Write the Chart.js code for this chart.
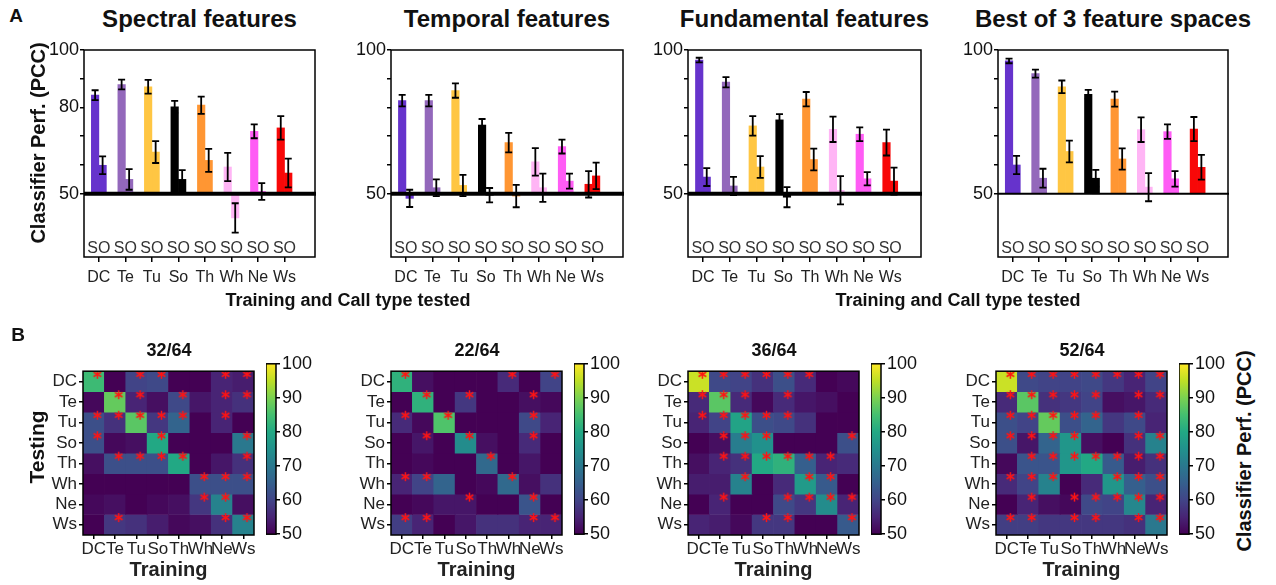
<!DOCTYPE html>
<html>
<head>
<meta charset="utf-8">
<script src="https://cdn.jsdelivr.net/npm/chart.js@4.4.0/dist/chart.umd.min.js"></script>
<style>
  body { margin: 0; width: 1276px; height: 585px; background: #fff; position: relative; overflow: hidden; }
  canvas { position: absolute; }
</style>
</head>
<body>
<script>
// CALL TYPES AND THEIR COLOURS
const calls = ['DC', 'Te', 'Tu', 'So', 'Th', 'Wh', 'Ne', 'Ws'];
const callColors = ['#6633cc', '#9368bb', '#ffc643', '#000000', '#ff9633', '#ffb5f5', '#ff5cf5', '#f80808'];
const panelTitles = ['Spectral features', 'Temporal features', 'Fundamental features', 'Best of 3 feature spaces'];
const perfTicks = [50, 60, 70, 80, 90, 100];
const perfLabels = [[50, 80, 100], [50, 100], [50, 100], [50, 100]];
const cbarTicks = [50, 60, 70, 80, 90, 100];

// PANEL A : SAME (S) AND OTHER (O) CALL TYPE PERFORMANCE, MEAN AND ERROR
const spectralS = [84.3, 88.0, 87.2, 80.2, 80.8, 59.3, 71.7, 72.9];
const spectralSErr = [1.7, 1.7, 2.4, 2.1, 3.0, 4.9, 2.4, 4.1];
const spectralO = [59.9, 55.0, 64.5, 55.0, 61.6, 41.6, 50.8, 57.2];
const spectralOErr = [3.1, 3.6, 3.8, 3.2, 4.0, 5.1, 2.9, 5.0];

const temporalS = [82.4, 82.4, 85.9, 73.9, 67.8, 61.1, 66.4, 53.3];
const temporalSErr = [2.0, 2.0, 2.5, 2.1, 3.4, 4.8, 2.4, 4.6];
const temporalO = [48.4, 52.1, 52.9, 49.5, 49.2, 52.1, 54.4, 56.2];
const temporalOErr = [3.0, 2.9, 3.7, 2.5, 3.9, 4.9, 2.6, 4.6];

const fundamentalS = [96.5, 88.8, 73.6, 75.7, 82.9, 72.4, 70.7, 67.8];
const fundamentalSErr = [0.8, 1.8, 3.4, 2.0, 2.5, 4.4, 2.4, 4.5];
const fundamentalO = [55.8, 52.7, 59.3, 48.8, 61.9, 51.2, 55.2, 54.4];
const fundamentalOErr = [3.1, 3.2, 3.8, 3.5, 3.8, 4.9, 2.3, 4.7];

const bestS = [96.2, 91.8, 87.2, 84.6, 82.9, 72.3, 71.6, 72.5];
const bestSErr = [0.8, 1.4, 2.2, 1.5, 2.6, 4.3, 2.5, 4.2];
const bestO = [60.0, 55.4, 64.7, 55.4, 62.1, 52.3, 55.2, 59.2];
const bestOErr = [3.2, 3.3, 3.8, 2.9, 3.7, 4.9, 2.7, 4.3];

// PANEL B : CONFUSION MATRICES (ROWS = TESTING, COLUMNS = TRAINING)
const spectralHeat = [
  [84, 50, 60, 61, 50, 50, 55, 54],
  [51, 88, 55, 52, 61, 53, 55, 57],
  [62, 57, 87, 58, 66, 50, 55, 50],
  [62, 51, 52, 80, 50, 50, 50, 70],
  [52, 62, 62, 62, 80, 50, 53, 57],
  [50, 50, 50, 50, 50, 62, 62, 62],
  [51, 52, 50, 51, 52, 58, 72, 52],
  [50, 58, 57, 54, 51, 52, 57, 72]];
const temporalHeat = [
  [82, 52, 50, 50, 50, 56, 50, 60],
  [50, 82, 50, 58, 50, 50, 52, 51],
  [56, 51, 86, 50, 50, 50, 61, 55],
  [50, 53, 50, 74, 52, 50, 56, 50],
  [50, 51, 50, 50, 67, 50, 53, 50],
  [55, 60, 66, 50, 51, 67, 52, 57],
  [50, 51, 53, 53, 50, 50, 63, 50],
  [59, 55, 50, 53, 57, 57, 55, 55]];
const fundamentalHeat = [
  [96, 61, 60, 57, 62, 56, 50, 51],
  [56, 87, 56, 51, 56, 53, 52, 50],
  [55, 60, 79, 62, 61, 57, 50, 50],
  [50, 52, 71, 75, 50, 50, 50, 62],
  [52, 55, 57, 80, 82, 65, 55, 56],
  [54, 54, 72, 50, 56, 77, 64, 50],
  [50, 55, 50, 50, 61, 58, 74, 55],
  [55, 54, 51, 58, 58, 50, 50, 64]];
const bestHeat = [
  [96, 61, 60, 60, 61, 58, 55, 60],
  [56, 87, 57, 58, 60, 52, 53, 56],
  [62, 60, 88, 62, 66, 58, 61, 55],
  [62, 53, 66, 76, 52, 50, 57, 72],
  [51, 63, 63, 76, 80, 64, 54, 57],
  [56, 60, 72, 50, 56, 76, 65, 62],
  [50, 55, 52, 51, 61, 60, 73, 55],
  [59, 59, 58, 58, 58, 58, 57, 70]];

// SIGNIFICANT CELLS (RED ASTERISKS)
const spectralStars = [
  [1,0,1,1,0,0,1,1], [0,1,1,0,1,0,1,1], [1,1,1,1,1,0,1,0], [1,0,0,1,0,0,0,1],
  [0,1,1,1,1,0,0,1], [0,0,0,0,0,1,1,1], [0,0,0,0,0,1,1,0], [0,1,0,0,0,0,1,1]];
const temporalStars = [
  [1,0,0,0,0,1,0,1], [0,1,0,1,0,0,1,0], [1,0,1,0,0,0,1,0], [0,1,0,1,0,0,1,0],
  [0,0,0,0,1,0,0,0], [1,1,0,0,0,1,0,0], [0,0,0,1,0,0,1,0], [1,1,0,0,0,0,1,1]];
const fundamentalStars = [
  [1,1,1,1,1,1,0,0], [1,1,1,0,1,0,0,0], [1,1,1,1,1,0,0,0], [0,1,1,1,0,0,0,1],
  [0,1,1,1,1,1,1,0], [0,0,1,0,0,1,1,0], [0,1,0,0,1,1,1,1], [0,0,0,1,1,0,0,1]];
const bestStars = [
  [1,1,1,1,1,1,1,1], [1,1,1,1,1,0,1,1], [1,1,1,1,1,0,1,0], [1,1,1,1,0,0,1,1],
  [0,1,1,1,1,1,1,1], [1,1,1,0,0,1,1,1], [0,1,0,1,1,1,1,1], [1,1,0,1,1,0,1,1]];

const barPanels = [
  [spectralS, spectralSErr, spectralO, spectralOErr],
  [temporalS, temporalSErr, temporalO, temporalOErr],
  [fundamentalS, fundamentalSErr, fundamentalO, fundamentalOErr],
  [bestS, bestSErr, bestO, bestOErr]];
const heatPanels = [spectralHeat, temporalHeat, fundamentalHeat, bestHeat];
const starPanels = [spectralStars, temporalStars, fundamentalStars, bestStars];

// LAYOUT
const FONT = '"Liberation Sans", Arial, Helvetica, sans-serif';
const topLeft = [84, 391, 688, 998];
const topRight = [315, 623, 921, 1228];
const baseWidth = [4, 4, 4, 2];
const heatLeft = [83, 391, 688, 996];

Chart.defaults.font.family = FONT;
Chart.defaults.color = '#111';

const viridisStops = ['#440154', '#482475', '#414487', '#355f8d', '#2a788e', '#21918c',
  '#22a884', '#44bf70', '#7ad151', '#bddf26', '#fde725'];
function hexRgb(h) {
  return [1, 3, 5].map(i => parseInt(h.substr(i, 2), 16));
}
function viridis(v) {
  const t = Math.min(Math.max((v - 50) / 50, 0), 1) * 10;
  const i = Math.min(Math.floor(t), 9), f = t - i;
  const a = hexRgb(viridisStops[i]), b = hexRgb(viridisStops[i + 1]);
  const c = a.map((x, k) => Math.round(x + (b[k] - x) * f));
  return `rgb(${c[0]},${c[1]},${c[2]})`;
}

function makeCanvas(left, top, w, h) {
  const c = document.createElement('canvas');
  c.width = w; c.height = h;
  c.style.left = left + 'px'; c.style.top = top + 'px';
  c.style.width = w + 'px'; c.style.height = h + 'px';
  document.body.appendChild(c);
  return c;
}

function label(text, cx, cy, size, rotate) {
  const d = document.createElement('div');
  d.textContent = text;
  d.style.cssText = `position:absolute;left:${cx}px;top:${cy}px;font:bold ${size}px ${FONT};` +
    `white-space:nowrap;line-height:1;color:#111;transform:translate(-50%,-50%)${rotate ? ' rotate(-90deg)' : ''}`;
  document.body.appendChild(d);
}

// BOX AROUND THE PLOT AREA
const framePlugin = {
  id: 'frame',
  afterDatasetsDraw(chart) {
    const { ctx, chartArea: a } = chart;
    ctx.save();
    ctx.strokeStyle = '#000';
    ctx.lineWidth = 1.5;
    ctx.strokeRect(a.left, a.top, a.right - a.left, a.bottom - a.top);
    ctx.restore();
  }
};

// CHANCE LINE, ERROR BARS AND "SO" LETTERS
const barExtras = {
  id: 'barExtras',
  afterDatasetsDraw(chart, args, opts) {
    const { ctx, chartArea: a, scales: { x, y } } = chart;
    ctx.save();
    const y50 = y.getPixelForValue(50);
    ctx.strokeStyle = '#000';
    ctx.lineWidth = opts.baseWidth;
    ctx.beginPath(); ctx.moveTo(a.left, y50); ctx.lineTo(a.right + 1, y50); ctx.stroke();

    ctx.lineWidth = 1.8;
    chart.data.datasets.forEach((ds, di) => {
      chart.getDatasetMeta(di).data.forEach((bar, i) => {
        const m = ds.means[i], e = ds.errs[i];
        const y1 = y.getPixelForValue(m - e), y2 = y.getPixelForValue(m + e);
        ctx.beginPath();
        ctx.moveTo(bar.x, y1); ctx.lineTo(bar.x, y2);
        ctx.moveTo(bar.x - 3.5, y1); ctx.lineTo(bar.x + 3.5, y1);
        ctx.moveTo(bar.x - 3.5, y2); ctx.lineTo(bar.x + 3.5, y2);
        ctx.stroke();
      });
    });

    ctx.fillStyle = '#333';
    ctx.font = '16px ' + FONT;
    ctx.textAlign = 'center';
    ctx.textBaseline = 'middle';
    calls.forEach((c, i) => ctx.fillText('SO', x.getPixelForValue(i + 1), y.getPixelForValue(31)));
    ctx.restore();
  }
};

// PANEL A BAR CHARTS
barPanels.forEach((p, k) => {
  const [S, SErr, O, OErr] = p;
  const w = topRight[k] - topLeft[k];
  const canvas = makeCanvas(topLeft[k] - 50, 36, w + 60, 261);
  new Chart(canvas, {
    type: 'bar',
    data: {
      datasets: [
        { label: 'S', data: S.map((v, i) => ({ x: i + 1, y: [50, v] })), backgroundColor: callColors, means: S, errs: SErr },
        { label: 'O', data: O.map((v, i) => ({ x: i + 1, y: [50, v] })), backgroundColor: callColors, means: O, errs: OErr }
      ]
    },
    options: {
      responsive: false,
      animation: false,
      layout: { padding: { top: 14, right: 10, left: 0, bottom: 0 } },
      datasets: { bar: { barThickness: 7.5 } },
      plugins: { legend: { display: false }, tooltip: { enabled: false }, barExtras: { baseWidth: baseWidth[k] } },
      scales: {
        x: {
          type: 'linear', min: 0.44, max: 9.15, offset: false,
          grid: { offset: false, drawOnChartArea: false, tickLength: 5, color: '#000', lineWidth: 1.5 },
          border: { display: false },
          afterBuildTicks: s => { s.ticks = calls.map((c, i) => ({ value: i + 1 })); },
          afterFit: s => { s.height = 40; },
          ticks: { callback: v => calls[v - 1], font: { size: 16 }, color: '#222', padding: 6, autoSkip: false, maxRotation: 0, minRotation: 0 }
        },
        y: {
          min: 28, max: 100,
          grid: { drawOnChartArea: false, tickLength: 4, color: '#000', lineWidth: 1.5 },
          border: { display: false },
          afterBuildTicks: s => { s.ticks = perfTicks.map(v => ({ value: v })); },
          afterFit: s => { s.width = 50; },
          ticks: { callback: v => perfLabels[k].includes(v) ? String(v) : '', font: { size: 18 }, color: '#111', padding: 1 }
        }
      }
    },
    plugins: [framePlugin, barExtras]
  });
  label(panelTitles[k], (topLeft[k] + topRight[k]) / 2, 19, 24);
});

// RED ASTERISK MARKER
const starImg = document.createElement('canvas');
starImg.width = 11; starImg.height = 11;
const sctx = starImg.getContext('2d');
sctx.strokeStyle = '#ff1414';
sctx.lineWidth = 1.5;
for (let a = 0; a < 3; a++) {
  const ang = Math.PI / 2 + a * Math.PI / 3;
  sctx.beginPath();
  sctx.moveTo(5.5 + 4.5 * Math.cos(ang), 5.5 + 4.5 * Math.sin(ang));
  sctx.lineTo(5.5 - 4.5 * Math.cos(ang), 5.5 - 4.5 * Math.sin(ang));
  sctx.stroke();
}

// PANEL B HEATMAPS AND COLOUR BARS
heatPanels.forEach((m, k) => {
  const canvas = makeCanvas(heatLeft[k] - 45, 359, 221, 223);
  const datasets = m.map((row, r) => ({
    data: row.map((v, c) => ({ x: c, y: [r, r + 1] })),
    backgroundColor: row.map(viridis),
    grouped: false, barPercentage: 1, categoryPercentage: 1, borderWidth: 0
  }));
  const stars = [];
  starPanels[k].forEach((row, r) => row.forEach((s, c) => { if (s) stars.push({ x: c + 0.17, y: r + 0.15 }); }));
  // lowest order is drawn last, so the asterisks sit on top of the cells
  datasets.push({ type: 'scatter', order: -1, data: stars, pointStyle: starImg, pointRadius: 4, pointHoverRadius: 4 });

  new Chart(canvas, {
    type: 'bar',
    data: { datasets },
    options: {
      responsive: false,
      animation: false,
      layout: { padding: { top: 4, right: 4, left: 0, bottom: 0 } },
      plugins: { legend: { display: false }, tooltip: { enabled: false } },
      scales: {
        x: {
          type: 'linear', min: -0.5, max: 7.5, offset: false,
          grid: { offset: false, drawOnChartArea: false, tickLength: 4, color: '#000', lineWidth: 1.5 },
          border: { display: false },
          afterBuildTicks: s => { s.ticks = calls.map((c, i) => ({ value: i })); },
          afterFit: s => { s.height = 47; },
          ticks: { callback: v => calls[v], font: { size: 17 }, color: '#222', padding: 0, autoSkip: false, maxRotation: 0, minRotation: 0 },
          title: { display: true, text: 'Training', font: { size: 20, weight: 'bold' }, color: '#222', padding: { top: 2, bottom: 0 } }
        },
        y: {
          type: 'linear', min: 0, max: 8, reverse: true,
          grid: { drawOnChartArea: false, tickLength: 4, color: '#000', lineWidth: 1.5 },
          border: { display: false },
          afterBuildTicks: s => { s.ticks = calls.map((c, i) => ({ value: i + 0.5 })); },
          afterFit: s => { s.width = 45; },
          ticks: { callback: v => calls[Math.floor(v)], font: { size: 17 }, color: '#222', padding: 2 }
        }
      }
    },
    plugins: [framePlugin]
  });

  const cbar = makeCanvas(heatLeft[k] + 183, 351, 50, 196);
  new Chart(cbar, {
    type: 'bar',
    data: {
      labels: [''],
      datasets: [{
        data: [[50, 100]],
        barPercentage: 1, categoryPercentage: 1, borderWidth: 0,
        backgroundColor(ctx) {
          const a = ctx.chart.chartArea;
          if (!a) return viridisStops[0];
          const g = ctx.chart.ctx.createLinearGradient(0, a.bottom, 0, a.top);
          viridisStops.forEach((c, i) => g.addColorStop(i / (viridisStops.length - 1), c));
          return g;
        }
      }]
    },
    options: {
      responsive: false,
      animation: false,
      layout: { padding: { top: 12, bottom: 12, left: 0, right: 0 } },
      plugins: { legend: { display: false }, tooltip: { enabled: false } },
      scales: {
        x: { display: false },
        y: {
          position: 'right', min: 50, max: 100,
          grid: { drawOnChartArea: false, tickLength: 4, color: '#000', lineWidth: 1.5 },
          border: { display: false },
          afterBuildTicks: s => { s.ticks = cbarTicks.map(v => ({ value: v })); },
          afterFit: s => { s.width = 40; },
          ticks: { font: { size: 18 }, color: '#111', padding: 2 }
        }
      }
    },
    plugins: [framePlugin]
  });

  const count = starPanels[k].flat().reduce((s, v) => s + v, 0);
  label(count + '/64', heatLeft[k] + 86, 350, 18);
});

// SHARED TEXT
label('A', 16, 15, 19);
label('B', 18, 334, 19);
label('Classifier Perf. (PCC)', 38, 143, 20, true);
label('Training and Call type tested', 348, 300, 18);
label('Training and Call type tested', 958, 300, 18);
label('Testing', 36, 447, 21, true);
label('Classifier Perf. (PCC)', 1244, 451, 20, true);
</script>
</body>
</html>
